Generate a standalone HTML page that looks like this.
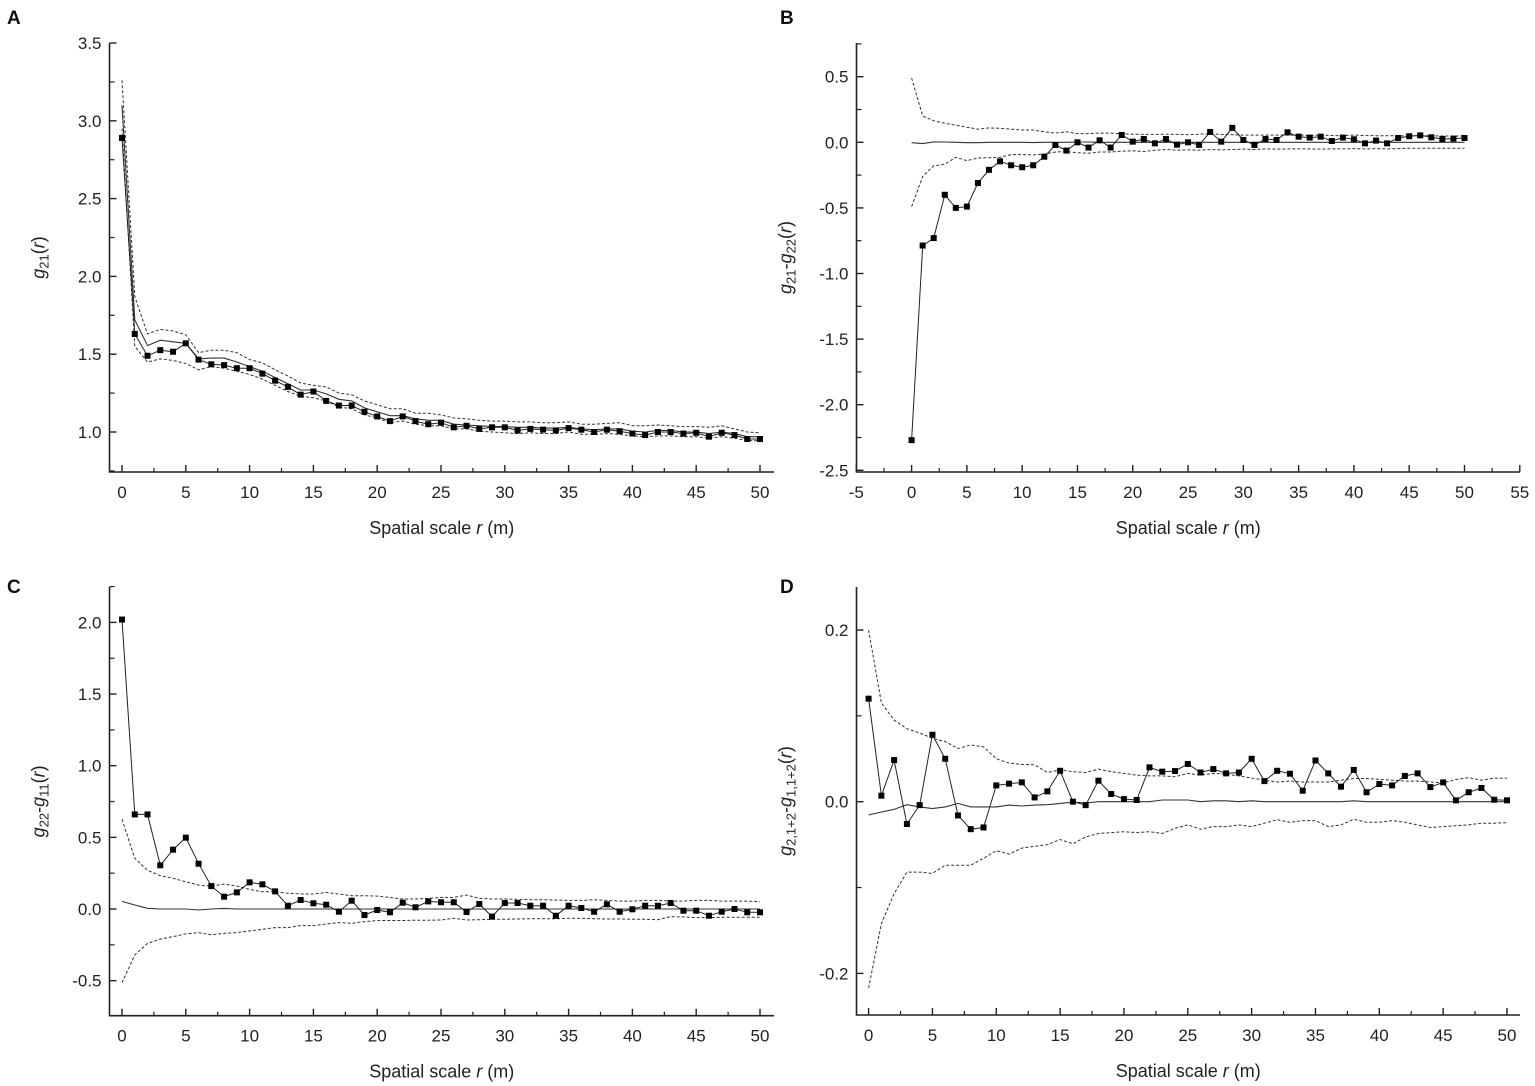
<!DOCTYPE html>
<html><head><meta charset="utf-8"><style>
html,body{margin:0;padding:0;background:#fff;}
svg{display:block;font-family:"Liberation Sans",Arial,sans-serif;}
</style></head><body>
<svg id="fig" width="1535" height="1086" viewBox="0 0 1535 1086"></svg>
<script>
const rA=[];for(let i=0;i<=50;i++)rA.push(i);
// Panel A
const aObs=[2.89,1.63,1.49,1.526,1.516,1.57,1.465,1.435,1.43,1.41,1.41,1.375,1.33,1.29,1.24,1.26,1.20,1.17,1.17,1.13,1.10,1.07,1.10,1.07,1.05,1.06,1.03,1.04,1.02,1.03,1.03,1.01,1.02,1.015,1.01,1.025,1.015,1.00,1.015,1.005,0.99,0.98,1.0,1.0,0.99,0.995,0.97,0.995,0.98,0.955,0.955];
const aMean=[3.10,1.72,1.555,1.59,1.58,1.57,1.47,1.475,1.475,1.45,1.42,1.39,1.35,1.31,1.27,1.27,1.245,1.21,1.20,1.155,1.13,1.105,1.105,1.085,1.075,1.075,1.05,1.045,1.04,1.035,1.035,1.03,1.03,1.025,1.025,1.03,1.02,1.015,1.02,1.02,1.005,1.0,1.01,1.01,1.0,1.0,0.99,1.0,0.99,0.97,0.97];
const aUp=[3.26,1.87,1.63,1.66,1.65,1.625,1.51,1.525,1.525,1.51,1.465,1.445,1.40,1.36,1.315,1.30,1.29,1.25,1.24,1.20,1.175,1.15,1.15,1.12,1.12,1.11,1.09,1.085,1.075,1.07,1.07,1.065,1.065,1.06,1.06,1.065,1.05,1.05,1.055,1.06,1.04,1.04,1.045,1.04,1.035,1.035,1.03,1.04,1.02,1.0,0.995];
const aLo=[2.95,1.55,1.45,1.47,1.46,1.44,1.40,1.42,1.41,1.39,1.37,1.34,1.30,1.26,1.23,1.22,1.20,1.16,1.15,1.11,1.09,1.06,1.07,1.05,1.04,1.04,1.02,1.02,1.005,1.0,0.995,0.99,0.995,0.99,0.99,1.0,0.985,0.985,0.99,0.985,0.975,0.97,0.975,0.975,0.97,0.97,0.96,0.97,0.96,0.945,0.945];
// Panel B
const bObs=[-2.27,-0.787,-0.73,-0.40,-0.50,-0.49,-0.31,-0.21,-0.145,-0.175,-0.19,-0.175,-0.11,-0.02,-0.063,0,-0.04,0.015,-0.04,0.056,0.005,0.025,-0.008,0.025,-0.018,0,-0.02,0.079,0.005,0.11,0.018,-0.02,0.025,0.018,0.076,0.043,0.036,0.043,0.01,0.036,0.023,-0.008,0.013,-0.008,0.033,0.046,0.053,0.038,0.025,0.028,0.033];
const bMean=[-0.003,-0.01,0.003,0.002,0,-0.003,-0.003,0,0,0,0,-0.002,0,0,0,0.002,0.002,0,0,0,0,0,0,0,0,0,0,0,0,0,0,0,0,0,0,0,0,0,0,0,0,0,0,0,0,0,0,0,0,0,0];
const bUp=[0.49,0.20,0.165,0.145,0.13,0.115,0.10,0.11,0.107,0.10,0.094,0.094,0.08,0.07,0.08,0.066,0.066,0.07,0.07,0.065,0.062,0.06,0.06,0.062,0.06,0.058,0.062,0.065,0.06,0.058,0.055,0.055,0.055,0.055,0.055,0.055,0.052,0.055,0.052,0.05,0.055,0.052,0.05,0.05,0.05,0.048,0.05,0.05,0.048,0.048,0.048];
const bLo=[-0.49,-0.26,-0.18,-0.167,-0.114,-0.14,-0.12,-0.117,-0.114,-0.094,-0.094,-0.096,-0.09,-0.074,-0.071,-0.079,-0.084,-0.074,-0.074,-0.068,-0.065,-0.07,-0.06,-0.055,-0.06,-0.058,-0.06,-0.055,-0.058,-0.055,-0.052,-0.055,-0.05,-0.052,-0.05,-0.05,-0.05,-0.052,-0.05,-0.05,-0.048,-0.05,-0.048,-0.05,-0.048,-0.046,-0.046,-0.045,-0.046,-0.046,-0.046];
// Panel C
const cObs=[2.02,0.66,0.66,0.305,0.414,0.498,0.316,0.16,0.086,0.116,0.186,0.172,0.123,0.023,0.063,0.04,0.03,-0.019,0.058,-0.042,-0.007,-0.023,0.044,0.012,0.053,0.047,0.047,-0.021,0.035,-0.053,0.042,0.042,0.023,0.023,-0.047,0.023,0.007,-0.019,0.033,-0.019,-0.002,0.023,0.023,0.042,-0.012,-0.012,-0.047,-0.019,0,-0.023,-0.023];
const cMean=[0.053,0.028,0.005,0,0,0,-0.007,0,0.004,0,0,0,0,0,0,0,0,0,0,0,0,0,0,0,0,0,0,0,0,0,0,0,0,0,0,0,0,0,0,0,0,0,0,0,0,0,0,0,0,0,0];
const cUp=[0.626,0.353,0.27,0.233,0.214,0.19,0.167,0.16,0.174,0.16,0.137,0.12,0.12,0.11,0.105,0.105,0.116,0.105,0.093,0.093,0.09,0.08,0.07,0.07,0.074,0.081,0.08,0.098,0.074,0.07,0.07,0.068,0.065,0.065,0.062,0.06,0.06,0.065,0.06,0.055,0.055,0.06,0.06,0.055,0.055,0.06,0.06,0.055,0.055,0.055,0.051];
const cLo=[-0.514,-0.32,-0.24,-0.21,-0.193,-0.174,-0.165,-0.18,-0.17,-0.165,-0.153,-0.142,-0.13,-0.13,-0.116,-0.116,-0.105,-0.095,-0.1,-0.088,-0.081,-0.08,-0.08,-0.078,-0.078,-0.077,-0.065,-0.077,-0.075,-0.072,-0.072,-0.07,-0.068,-0.068,-0.068,-0.065,-0.065,-0.068,-0.07,-0.07,-0.072,-0.072,-0.075,-0.053,-0.055,-0.06,-0.06,-0.058,-0.058,-0.058,-0.058];
// Panel D
const dObs=[0.12,0.007,0.0485,-0.026,-0.004,0.078,0.05,-0.016,-0.032,-0.03,0.019,0.021,0.0225,0.005,0.012,0.036,0,-0.004,0.0245,0.009,0.003,0.002,0.04,0.035,0.0357,0.044,0.034,0.038,0.033,0.034,0.05,0.024,0.036,0.0326,0.0128,0.048,0.033,0.0175,0.037,0.011,0.0206,0.019,0.03,0.033,0.017,0.0225,0.0016,0.011,0.016,0.0023,0.0016];
const dMean=[-0.0155,-0.012,-0.009,-0.0035,-0.006,-0.008,-0.006,-0.002,-0.006,-0.006,-0.006,-0.004,-0.005,-0.004,-0.0035,-0.002,-0.0005,-0.0015,0,0,0,0,0,0.002,0.002,0.002,0,0.001,0.001,0,0.001,0,0,0,0,0,0,0,0.001,0,0,0,0,0,0,0,0,0,0,0,0];
const dUp=[0.2,0.115,0.095,0.085,0.08,0.074,0.07,0.062,0.066,0.064,0.05,0.045,0.0435,0.043,0.034,0.037,0.035,0.034,0.038,0.035,0.033,0.031,0.03,0.03,0.029,0.033,0.031,0.033,0.032,0.03,0.0275,0.025,0.023,0.024,0.023,0.023,0.023,0.025,0.027,0.027,0.026,0.025,0.024,0.024,0.023,0.022,0.026,0.028,0.025,0.0275,0.0275];
const dLo=[-0.217,-0.142,-0.107,-0.082,-0.082,-0.0835,-0.074,-0.074,-0.074,-0.066,-0.057,-0.061,-0.054,-0.052,-0.05,-0.044,-0.049,-0.041,-0.037,-0.036,-0.035,-0.036,-0.035,-0.037,-0.031,-0.027,-0.032,-0.029,-0.029,-0.027,-0.029,-0.025,-0.021,-0.024,-0.022,-0.022,-0.029,-0.027,-0.0205,-0.024,-0.024,-0.022,-0.024,-0.027,-0.03,-0.029,-0.028,-0.027,-0.025,-0.025,-0.0245];
const aYTicks=["1.0","1.5","2.0","2.5","3.0","3.5"];
const bYTicks=["-2.5","-2.0","-1.5","-1.0","-0.5","0.0","0.5"];
const cYTicks=["-0.5","0.0","0.5","1.0","1.5","2.0"];
const dYTicks=["-0.2","0.0","0.2"];
const acXTicks=["0","5","10","15","20","25","30","35","40","45","50"];
const bXTicks=["-5","0","5","10","15","20","25","30","35","40","45","50","55"];

const NS="http://www.w3.org/2000/svg";
const svg=document.getElementById('fig');
function mk(tag,attrs,parent){const e=document.createElementNS(NS,tag);for(const k in attrs)e.setAttribute(k,attrs[k]);(parent||svg).appendChild(e);return e;}

function panel(c){
  const g=mk('g',{});
  
  
  const sx=v=>c.x0+(v-c.xv0)*(c.x1-c.x0)/(c.xv1-c.xv0);
  const sy=v=>c.y0+(v-c.yv0)*(c.y1-c.y0)/(c.yv1-c.yv0);
  const ax=mk('path',{d:`M${c.L},${c.T}V${c.B}H${c.R}`,fill:'none',stroke:'#222','stroke-width':1.6},g);
  
  
  const yt=c.yTicks.map(Number);
  const ystep=yt[1]-yt[0];
  for(let i=0;i<yt.length;i++){
    const y=sy(yt[i]);
    mk('line',{x1:c.L,x2:c.L+7,y1:y,y2:y,stroke:'#222','stroke-width':1.4},g);
    const t=mk('text',{x:c.L-8,y:y+6,'text-anchor':'end','font-size':17,fill:'#222'},g);
    t.textContent=c.yTicks[i];
    
    
    const ym=sy(yt[i]+ystep/2);
    if(ym>c.T-1&&ym<c.B) mk('line',{x1:c.L,x2:c.L+5,y1:ym,y2:ym,stroke:'#222','stroke-width':1.2},g);
    const yb=sy(yt[i]-ystep/2);
    if(i==0&&yb<c.B&&yb>c.T) mk('line',{x1:c.L,x2:c.L+5,y1:yb,y2:yb,stroke:'#222','stroke-width':1.2},g);
  }
  const xt=c.xTicks.map(Number);
  for(let i=0;i<xt.length;i++){
    const x=sx(xt[i]);
    mk('line',{x1:x,x2:x,y1:c.B,y2:c.B-7,stroke:'#222','stroke-width':1.4},g);
    const t=mk('text',{x:x,y:c.B+26,'text-anchor':'middle','font-size':17,fill:'#222'},g);
    t.textContent=c.xTicks[i];
    
    
    if(i<xt.length-1){const xm=sx(xt[i]+2.5);mk('line',{x1:xm,x2:xm,y1:c.B,y2:c.B-4,stroke:'#222','stroke-width':1.2},g);}
  }
  const pts=arr=>arr.map((v,i)=>sx(rA[i]).toFixed(1)+','+sy(v).toFixed(1)).join(' ');
  const up=mk('polyline',{points:pts(c.up),fill:'none',stroke:'#333','stroke-width':1,'stroke-dasharray':'3,2'},g);
  
  
  const lo=mk('polyline',{points:pts(c.lo),fill:'none',stroke:'#333','stroke-width':1,'stroke-dasharray':'3,2'},g);
  
  
  const me=mk('polyline',{points:pts(c.mean),fill:'none',stroke:'#333','stroke-width':1.1},g);
  
  
  const ob=mk('polyline',{points:pts(c.obs),fill:'none',stroke:'#222','stroke-width':1},g);
  
  
  c.obs.forEach((v,i)=>{
    const r=mk('rect',{x:sx(rA[i])-3,y:sy(v)-3,width:6,height:6,fill:'#000'},g);
    
    
  });
  const cx=(c.L+c.R)/2;
  const xt2=mk('text',{x:cx,y:c.B+62,'text-anchor':'middle','font-size':18,fill:'#222'},g);
  xt2.innerHTML='Spatial scale <tspan font-style="italic">r</tspan> (m)';
  
  
  const cy=(c.T+c.B)/2;
  const yt2=mk('text',{x:0,y:0,'text-anchor':'middle','font-size':18,fill:'#222',transform:`translate(${c.L-65},${cy}) rotate(-90)`},g);
  yt2.innerHTML=c.ytitle;
  
  
  const lab=mk('text',{x:c.lx,y:c.ly,'font-size':19,'font-weight':'bold',fill:'#111'},g);
  lab.textContent=c.id;
  
  
}
const sub=s=>`<tspan font-size="13" dy="4">${s}</tspan><tspan dy="-4">`;
panel({id:'A',L:109.5,R:774,T:43,B:472,x0:122,x1:760,xv0:0,xv1:50,y0:432,y1:43,yv0:1.0,yv1:3.5,
  yTicks:aYTicks,xTicks:acXTicks,obs:aObs,mean:aMean,up:aUp,lo:aLo,lx:7,ly:24,
  ytitle:`<tspan font-style="italic">g</tspan>${sub('21')}(<tspan font-style="italic">r</tspan>)</tspan>`});
panel({id:'B',L:856.5,R:1520,T:43,B:472,x0:911.6,x1:1464.5,xv0:0,xv1:50,y0:142.3,y1:76.7,yv0:0,yv1:0.5,
  yTicks:bYTicks,xTicks:bXTicks,obs:bObs,mean:bMean,up:bUp,lo:bLo,lx:780,ly:24,
  ytitle:`<tspan font-style="italic">g</tspan>${sub('21')}-<tspan font-style="italic">g</tspan>${sub('22')}(<tspan font-style="italic">r</tspan>)</tspan></tspan>`});
panel({id:'C',L:109.5,R:774,T:587,B:1015.7,x0:122,x1:760,xv0:0,xv1:50,y0:909,y1:622.4,yv0:0,yv1:2.0,
  yTicks:cYTicks,xTicks:acXTicks,obs:cObs,mean:cMean,up:cUp,lo:cLo,lx:7,ly:593,
  ytitle:`<tspan font-style="italic">g</tspan>${sub('22')}-<tspan font-style="italic">g</tspan>${sub('11')}(<tspan font-style="italic">r</tspan>)</tspan></tspan>`});
panel({id:'D',L:856.5,R:1520,T:587,B:1015,x0:868.6,x1:1507,xv0:0,xv1:50,y0:801.7,y1:630,yv0:0,yv1:0.2,
  yTicks:dYTicks,xTicks:acXTicks,obs:dObs,mean:dMean,up:dUp,lo:dLo,lx:780,ly:593,
  ytitle:`<tspan font-style="italic">g</tspan>${sub('2,1+2')}-<tspan font-style="italic">g</tspan>${sub('1,1+2')}(<tspan font-style="italic">r</tspan>)</tspan></tspan>`});
</script>
</body></html>
